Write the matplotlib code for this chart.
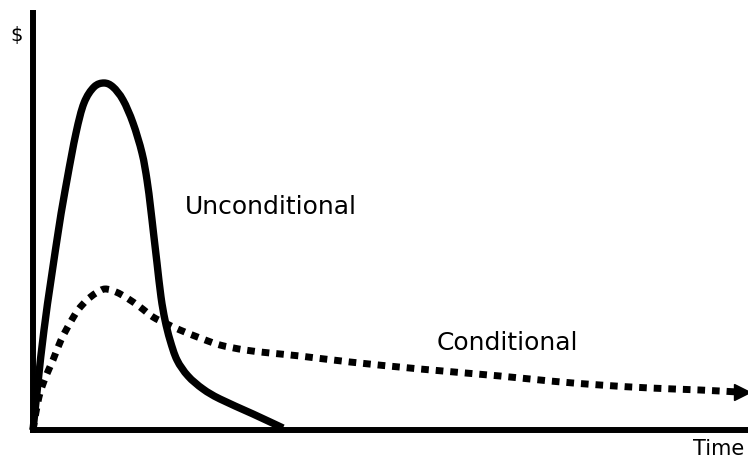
import matplotlib
matplotlib.use("Agg")
import matplotlib.pyplot as plt
from matplotlib.path import Path
from matplotlib.patches import PathPatch

# Arbitrary units: time (0..715) and value (0..417)
uncond_t = [0, 11, 25.5, 34, 43, 51, 61, 71, 80, 90, 100, 109, 114, 117.5, 120.5, 124, 128,
            132, 137, 144, 155, 170, 187, 220, 250]
uncond_v = [0, 100, 200, 250, 297, 327, 343, 347, 343, 330, 307, 277, 250, 223, 197, 167, 133,
            110, 90, 70, 54, 41, 31, 16, 2]

cond_t = [0, 3, 7, 13, 20, 28, 37, 45, 54, 63, 72, 83, 94, 107, 120, 134, 147, 167, 187,
          212, 237, 267, 317, 387, 467, 517, 567, 617, 667, 705]
cond_v = [0, 18, 37, 54, 70, 90, 107, 120, 130, 137, 141, 138, 132, 123, 113, 106, 100, 92, 85,
          80, 77, 74, 68, 61, 54, 49, 45, 42, 40, 38]
cond_tip = (715, 38)

labels = {"Unconditional": (152, 216), "Conditional": (404, 80)}
y_label = "$"
x_label = "Time"


def smooth_path(xs, ys):
    pts = list(zip(xs, ys))
    n = len(pts)
    verts = [pts[0]]
    codes = [Path.MOVETO]
    for i in range(n - 1):
        p0 = pts[max(i - 1, 0)]
        p1 = pts[i]
        p2 = pts[i + 1]
        p3 = pts[min(i + 2, n - 1)]
        c1 = (p1[0] + (p2[0] - p0[0]) / 6, p1[1] + (p2[1] - p0[1]) / 6)
        c2 = (p2[0] - (p3[0] - p1[0]) / 6, p2[1] - (p3[1] - p1[1]) / 6)
        verts += [c1, c2, p2]
        codes += [Path.CURVE4] * 3
    return Path(verts, codes)


W, H = 748, 459
fig = plt.figure(figsize=(W / 100, H / 100), dpi=100)
ax = fig.add_axes([33 / W, (H - 430) / H, (W - 33) / W, (430 - 13) / H])
ax.set_xlim(0, 715)
ax.set_ylim(0, 417)
for s in ["top", "right"]:
    ax.spines[s].set_visible(False)
for s in ["left", "bottom"]:
    ax.spines[s].set_linewidth(4.3)
    ax.spines[s].set_capstyle("projecting")
ax.set_xticks([])
ax.set_yticks([])

solid = PathPatch(smooth_path(uncond_t, uncond_v), facecolor="none", edgecolor="black",
                  lw=5.3, joinstyle="round", capstyle="butt", clip_on=False)
ax.add_patch(solid)

dotted = PathPatch(smooth_path(cond_t, cond_v), facecolor="none", edgecolor="black",
                   lw=5.0, linestyle=(0, (1.1, 1.0)), capstyle="butt", clip_on=False)
ax.add_patch(dotted)
ax.plot([cond_tip[0] - 6], [cond_tip[1]], marker=">", color="black", markersize=11,
        clip_on=False)

for txt, (x, y) in labels.items():
    ax.text(x, y, txt, fontsize=18, family="DejaVu Sans", ha="left", va="baseline")

fig.text(17 / W, 1 - 35 / H, y_label, fontsize=14, ha="center", va="center")
fig.text(744 / W, 1 - 449 / H, x_label, fontsize=15, ha="right", va="center")

fig.savefig("out.png", dpi=100)
